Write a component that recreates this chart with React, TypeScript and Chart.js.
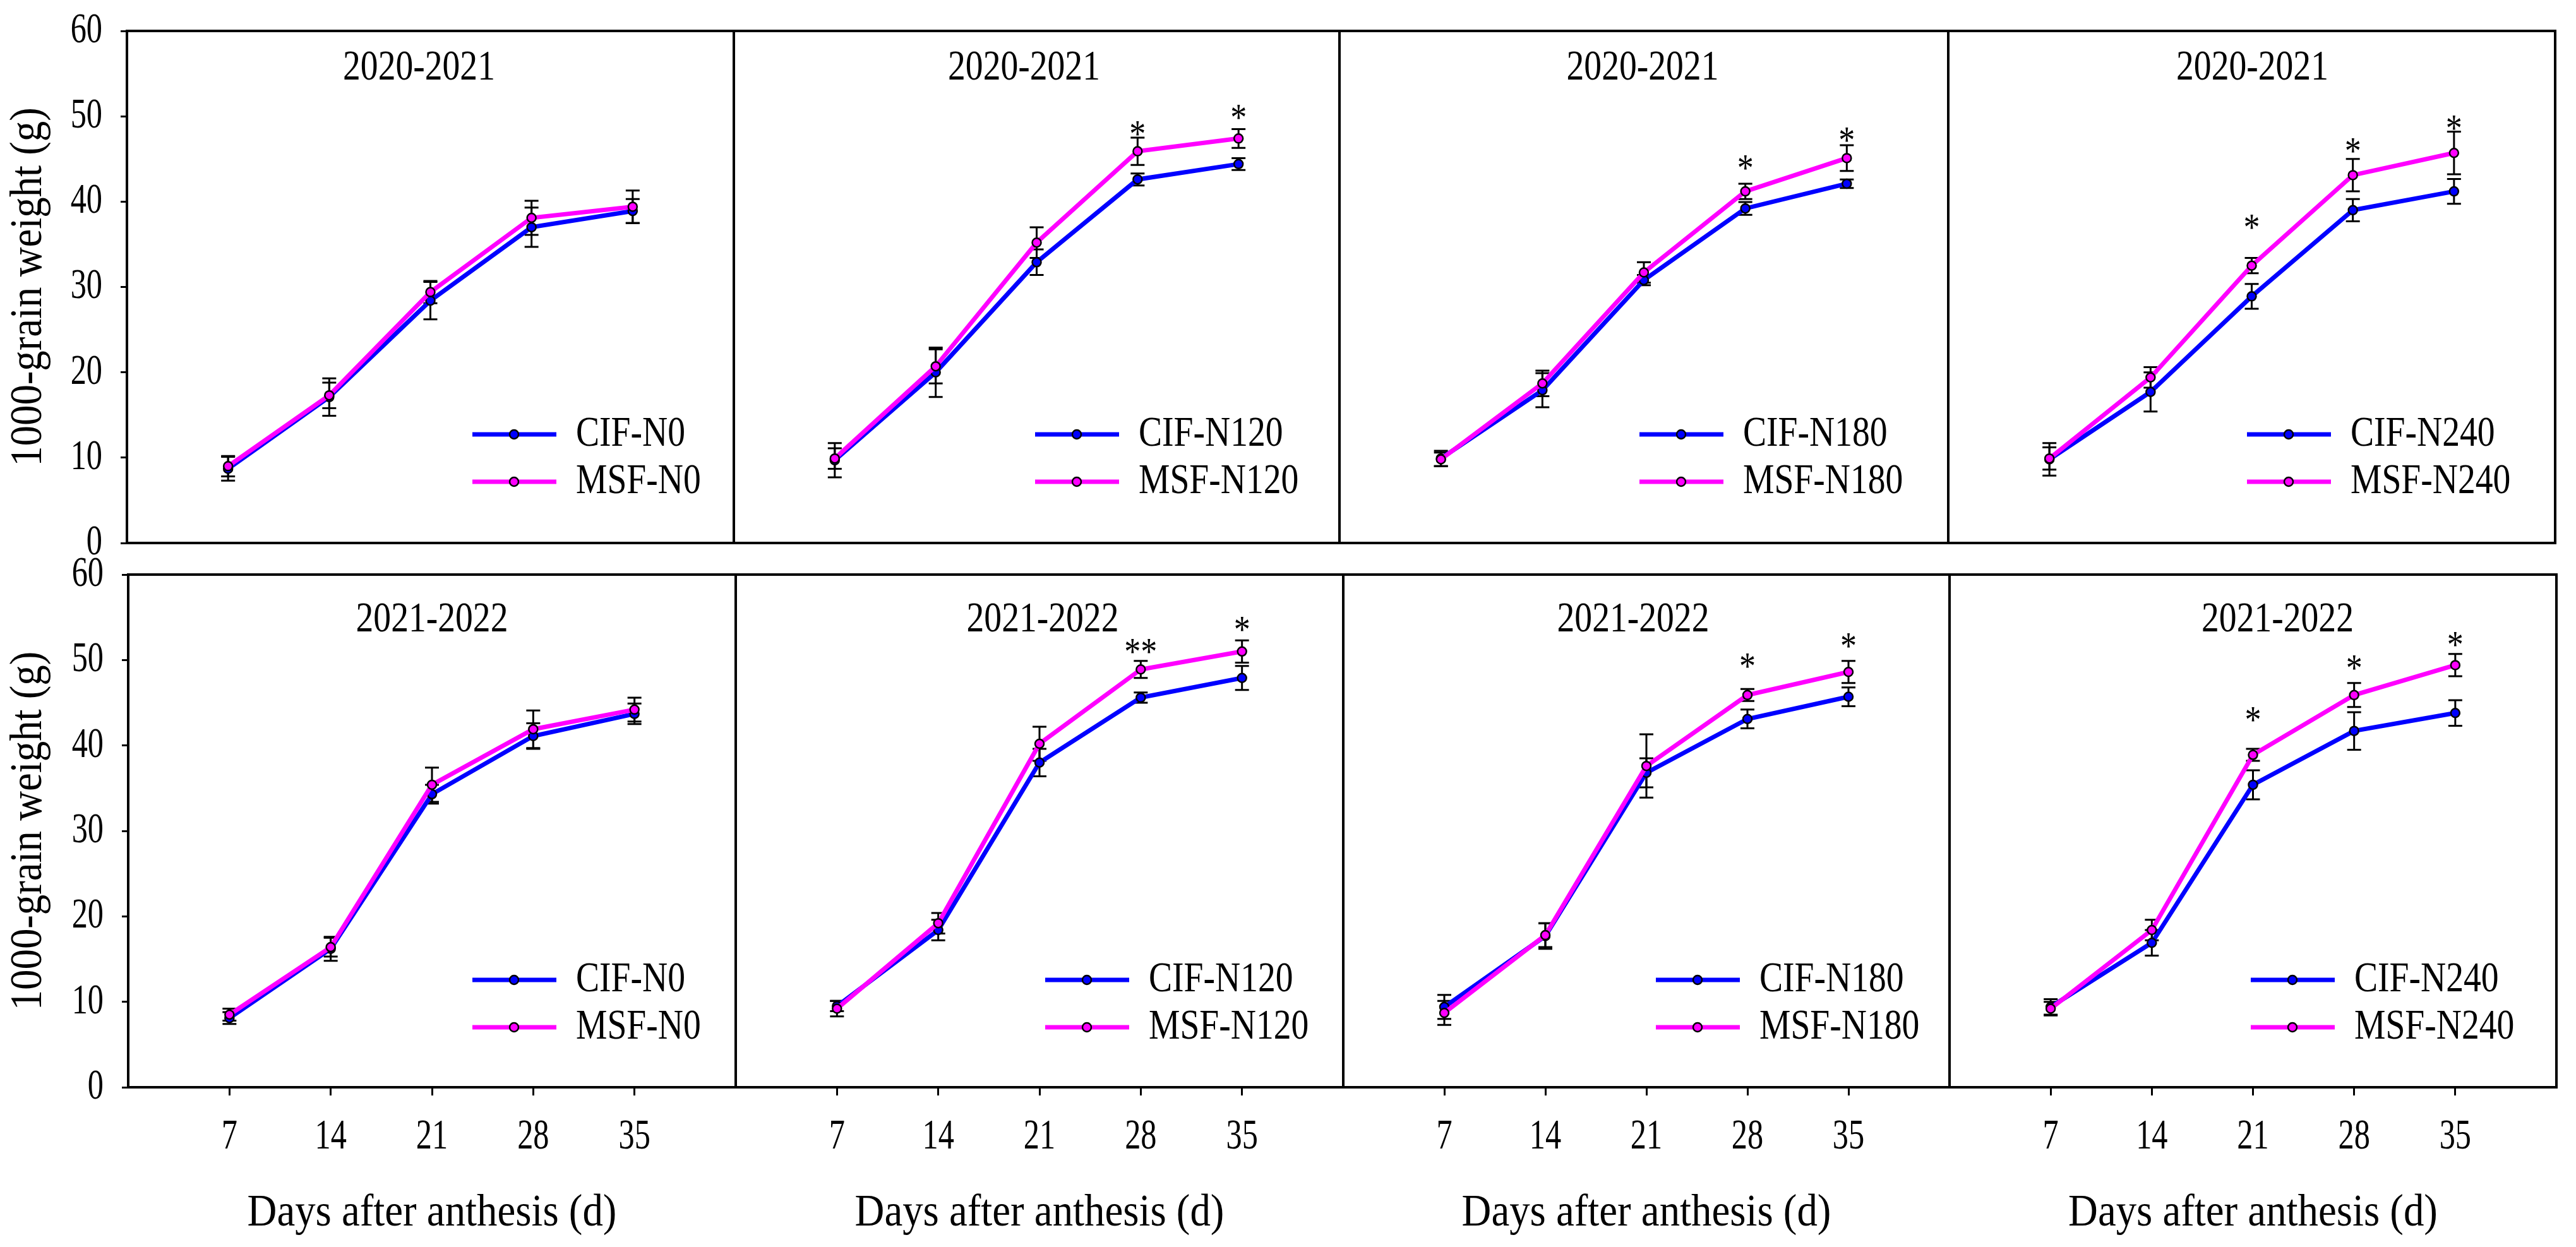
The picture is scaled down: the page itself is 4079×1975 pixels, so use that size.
import React, { useEffect, useRef } from "react";
import { Chart, registerables } from "chart.js";

Chart.register(...registerables);

const FONT = '"Liberation Serif", "Times New Roman", serif';

// ---------------- data ----------------
const DAYS = [7, 14, 21, 28, 35];
const SEASONS = ["2020-2021", "2021-2022"];
const N_LEVELS = ["N0", "N120", "N180", "N240"];
const Y_TITLE = "1000-grain weight (g)";
const X_TITLE = "Days after anthesis (d)";

// 2020-2021
const cif20N0 = [8.7, 17.1, 28.4, 37.0, 38.9];
const cif20N0Err = [1.4, 2.2, 2.2, 2.3, 1.4];
const msf20N0 = [9.0, 17.3, 29.4, 38.1, 39.4];
const msf20N0Err = [1.2, 1.5, 1.3, 2.0, 1.9];
const sig20N0 = ["", "", "", "", ""];
const sig20N0Y = [null, null, null, null, null];

const cif20N120 = [9.7, 20.0, 32.9, 42.6, 44.4];
const cif20N120Err = [2.0, 2.9, 1.5, 0.7, 0.7];
const msf20N120 = [9.9, 20.7, 35.2, 45.9, 47.4];
const msf20N120Err = [1.2, 2.0, 1.8, 1.6, 1.1];
const sig20N120 = ["", "", "", "*", "*"];
const sig20N120Y = [null, null, null, 48.6, 50.5];

const cif20N180 = [9.9, 17.9, 30.8, 39.2, 42.1];
const cif20N180Err = [0.9, 2.0, 0.6, 0.75, 0.5];
const msf20N180 = [9.8, 18.7, 31.7, 41.2, 45.1];
const msf20N180Err = [0.8, 1.5, 1.2, 0.9, 1.5];
const sig20N180 = ["", "", "", "*", "*"];
const sig20N180Y = [null, null, null, 44.6, 47.8];

const cif20N240 = [9.8, 17.7, 28.9, 39.0, 41.2];
const cif20N240Err = [1.9, 2.3, 1.45, 1.3, 1.45];
const msf20N240 = [9.9, 19.4, 32.5, 43.1, 45.7];
const msf20N240Err = [1.3, 1.2, 0.9, 1.9, 2.5];
const sig20N240 = ["", "", "*", "*", "*"];
const sig20N240Y = [null, null, 37.6, 46.6, 49.2];

// 2021-2022
const cif21N0 = [8.1, 16.2, 34.3, 41.1, 43.7];
const cif21N0Err = [0.7, 1.4, 1.1, 1.5, 1.2];
const msf21N0 = [8.5, 16.4, 35.4, 41.9, 44.2];
const msf21N0Err = [0.7, 1.1, 2.0, 2.2, 1.4];
const sig21N0 = ["", "", "", "", ""];
const sig21N0Y = [null, null, null, null, null];

const cif21N120 = [9.5, 18.4, 38.0, 45.6, 47.9];
const cif21N120Err = [0.6, 1.2, 1.6, 0.6, 1.4];
const msf21N120 = [9.2, 19.2, 40.2, 48.9, 51.0];
const msf21N120Err = [0.9, 1.2, 2.0, 1.0, 1.3];
const sig21N120 = ["", "", "", "**", "*"];
const sig21N120Y = [null, null, null, 51.6, 54.2];

const cif21N180 = [9.4, 17.7, 36.8, 43.1, 45.7];
const cif21N180Err = [1.4, 1.5, 1.7, 1.1, 1.1];
const msf21N180 = [8.7, 17.8, 37.6, 45.9, 48.6];
const msf21N180Err = [1.4, 1.4, 3.7, 0.7, 1.3];
const sig21N180 = ["", "", "", "*", "*"];
const sig21N180Y = [null, null, null, 49.9, 52.3];

const cif21N240 = [9.4, 16.9, 35.4, 41.7, 43.8];
const cif21N240Err = [0.9, 1.5, 1.7, 2.2, 1.5];
const msf21N240 = [9.2, 18.4, 38.9, 45.9, 49.4];
const msf21N240Err = [0.8, 1.2, 0.7, 1.4, 1.3];
const sig21N240 = ["", "", "*", "*", "*"];
const sig21N240Y = [null, null, 43.6, 49.7, 52.4];

type PanelData = {
  cif: number[]; cifErr: number[]; msf: number[]; msfErr: number[];
  sig: string[]; sigY: (number | null)[];
};

const PANELS: PanelData[] = [
  { cif: cif20N0, cifErr: cif20N0Err, msf: msf20N0, msfErr: msf20N0Err, sig: sig20N0, sigY: sig20N0Y },
  { cif: cif20N120, cifErr: cif20N120Err, msf: msf20N120, msfErr: msf20N120Err, sig: sig20N120, sigY: sig20N120Y },
  { cif: cif20N180, cifErr: cif20N180Err, msf: msf20N180, msfErr: msf20N180Err, sig: sig20N180, sigY: sig20N180Y },
  { cif: cif20N240, cifErr: cif20N240Err, msf: msf20N240, msfErr: msf20N240Err, sig: sig20N240, sigY: sig20N240Y },
  { cif: cif21N0, cifErr: cif21N0Err, msf: msf21N0, msfErr: msf21N0Err, sig: sig21N0, sigY: sig21N0Y },
  { cif: cif21N120, cifErr: cif21N120Err, msf: msf21N120, msfErr: msf21N120Err, sig: sig21N120, sigY: sig21N120Y },
  { cif: cif21N180, cifErr: cif21N180Err, msf: msf21N180, msfErr: msf21N180Err, sig: sig21N180, sigY: sig21N180Y },
  { cif: cif21N240, cifErr: cif21N240Err, msf: msf21N240, msfErr: msf21N240Err, sig: sig21N240, sigY: sig21N240Y },
];

// ---------------- layout / style ----------------
const PAGE_W = 4079;
const PAGE_H = 1975;
const ROW_TOP = [49, 910];
const ROW_BOTTOM = [860, 1722];
const COL_EDGES = [
  [201, 1162, 2121, 3085, 4046],
  [203, 1165, 2127, 3087, 4048],
];
const LEGEND_DX = [547, 477, 475, 473, 545, 490, 495, 477];
const LEGEND_DY = [[172, 97], [170, 95]];
const TITLE_DX = [-18, -20, -2, 1, 0, 5, -21, 39];
const TITLE_DY = [59, 72];
const BLUE = "#0000FF";
const MAGENTA = "#FF00FF";
const V_PAD = 80; // canvas margin above / below plot area (covers tick-label padding)

// horizontal condensing of text, keyed by font pixel size
const SQUEEZE: Record<number, number> = { 68: 0.74, 72: 0.9, 67: 0.83, 62: 0.84 };

function condense(ctx: any) {
  if (ctx.__condensed) return;
  ctx.__condensed = true;
  const orig = CanvasRenderingContext2D.prototype.fillText;
  ctx.fillText = function (text: string, x: number, y: number, maxWidth?: number) {
    const m = /(\d+(?:\.\d+)?)px/.exec(ctx.font);
    const f = m ? SQUEEZE[Math.round(parseFloat(m[1]))] ?? 1 : 1;
    ctx.save();
    ctx.translate(x, y);
    ctx.scale(f, 1);
    if (maxWidth === undefined || maxWidth === null) orig.call(ctx, text, 0, 0);
    else orig.call(ctx, text, 0, 0, maxWidth / f);
    ctx.restore();
  };
}

function geometry(row: number, col: number) {
  const L = COL_EDGES[row][col];
  const R = COL_EDGES[row][col + 1];
  const T = ROW_TOP[row];
  const B = ROW_BOTTOM[row];
  const x0 = col === 0 ? 0 : L - 8;
  const x1 = R + 8;
  const y0 = T - V_PAD;
  const y1 = row === 1 ? PAGE_H : B + V_PAD;
  return { L, R, T, B, x0, x1, y0, y1, w: x1 - x0, h: y1 - y0 };
}

function makePlugin(idx: number, p: PanelData, row: number) {
  return {
    id: "panelDecor",
    beforeDatasetsDraw(chart: any) {
      const { ctx } = chart;
      const xs = chart.scales.x;
      const ys = chart.scales.y;
      ctx.save();
      ctx.strokeStyle = "#000";
      ctx.lineWidth = 3;
      const series: [number[], number[]][] = [[p.cif, p.cifErr], [p.msf, p.msfErr]];
      for (const [vals, errs] of series) {
        vals.forEach((v, i) => {
          const px = xs.getPixelForValue(DAYS[i]);
          const t = ys.getPixelForValue(v + errs[i]);
          const b = ys.getPixelForValue(v - errs[i]);
          ctx.beginPath();
          ctx.moveTo(px, t); ctx.lineTo(px, b);
          ctx.moveTo(px - 11, t); ctx.lineTo(px + 11, t);
          ctx.moveTo(px - 11, b); ctx.lineTo(px + 11, b);
          ctx.stroke();
        });
      }
      ctx.restore();
    },
    afterDatasetsDraw(chart: any) {
      const { ctx, chartArea: a } = chart;
      const xs = chart.scales.x;
      const ys = chart.scales.y;
      ctx.save();
      // frame
      ctx.strokeStyle = "#000";
      ctx.lineWidth = 4;
      ctx.strokeRect(a.left, a.top, a.right - a.left, a.bottom - a.top);
      // panel title
      ctx.fillStyle = "#000";
      ctx.font = `67px ${FONT}`;
      ctx.textAlign = "center";
      ctx.textBaseline = "middle";
      ctx.fillText(SEASONS[row], (a.left + a.right) / 2 + TITLE_DX[idx], a.top + TITLE_DY[row]);
      // legend
      const lvl = N_LEVELS[idx % 4];
      const items: [string, string, number][] = [
        [`CIF-${lvl}`, BLUE, LEGEND_DY[row][0]],
        [`MSF-${lvl}`, MAGENTA, LEGEND_DY[row][1]],
      ];
      const lx = a.left + LEGEND_DX[idx];
      for (const [label, color, dy] of items) {
        const ly = a.bottom - dy;
        ctx.strokeStyle = color;
        ctx.lineWidth = 7;
        ctx.beginPath();
        ctx.moveTo(lx, ly);
        ctx.lineTo(lx + 133, ly);
        ctx.stroke();
        ctx.beginPath();
        ctx.arc(lx + 66, ly, 7, 0, Math.PI * 2);
        ctx.fillStyle = color;
        ctx.fill();
        ctx.strokeStyle = "#000";
        ctx.lineWidth = 2.5;
        ctx.stroke();
        ctx.fillStyle = "#000";
        ctx.font = `67px ${FONT}`;
        ctx.textAlign = "left";
        ctx.textBaseline = "middle";
        ctx.fillText(label, lx + 164, ly);
      }
      // significance marks
      ctx.font = `62px ${FONT}`;
      ctx.textAlign = "center";
      ctx.textBaseline = "alphabetic";
      ctx.fillStyle = "#000";
      p.sig.forEach((s, i) => {
        const sy = p.sigY[i];
        if (!s || sy === null) return;
        const m = ctx.measureText(s);
        const asc = m.actualBoundingBoxAscent;
        const desc = m.actualBoundingBoxDescent;
        const px = xs.getPixelForValue(DAYS[i]);
        const py = ys.getPixelForValue(sy);
        ctx.fillText(s, px, py + (asc - desc) / 2);
      });
      ctx.restore();
    },
  };
}

function Panel({ idx }: { idx: number }) {
  const ref = useRef<HTMLCanvasElement>(null);
  const row = Math.floor(idx / 4);
  const col = idx % 4;
  const g = geometry(row, col);
  useEffect(() => {
    const canvas = ref.current!;
    const ctx = canvas.getContext("2d")!;
    condense(ctx);
    const p = PANELS[idx];
    const isLeft = col === 0;
    const isBottom = row === 1;
    const xScale: any = {
      type: "linear",
      min: 0,
      max: 42,
      display: isBottom,
      afterBuildTicks: (s: any) => {
        s.ticks = DAYS.map((v) => ({ value: v }));
      },
      ticks: {
        font: { family: FONT, size: 68 },
        color: "#000",
        padding: 25,
        maxRotation: 0,
      },
      grid: {
        display: true,
        drawOnChartArea: false,
        drawTicks: true,
        tickLength: 13,
        color: "#000",
        lineWidth: 3,
      },
      border: { display: false },
      title: {
        display: true,
        text: X_TITLE,
        color: "#000",
        font: { family: FONT, size: 72 },
        padding: { top: 0, bottom: 10 },
      },
    };
    if (isBottom) {
      xScale.afterFit = (s: any) => {
        s.height = PAGE_H - g.B;
      };
    }
    const yScale: any = {
      type: "linear",
      min: 0,
      max: 60,
      display: isLeft,
      ticks: {
        stepSize: 10,
        font: { family: FONT, size: 68 },
        color: "#000",
        padding: 29,
      },
      grid: {
        display: true,
        drawOnChartArea: false,
        drawTicks: true,
        tickLength: 10,
        color: "#000",
        lineWidth: 3,
      },
      border: { display: false },
      title: {
        display: true,
        text: Y_TITLE,
        color: "#000",
        font: { family: FONT, size: 72 },
        padding: { top: 3, bottom: 0 },
      },
    };
    if (isLeft) {
      yScale.afterFit = (s: any) => {
        s.width = g.L;
      };
    }
    const chart = new Chart(canvas, {
      type: "line",
      data: {
        datasets: [
          {
            label: `CIF-${N_LEVELS[col]}`,
            data: DAYS.map((d, i) => ({ x: d, y: p.cif[i] })),
            borderColor: BLUE,
            backgroundColor: BLUE,
            borderWidth: 7,
            pointRadius: 7,
            pointBorderWidth: 2.5,
            pointBorderColor: "#000",
            pointBackgroundColor: BLUE,
            tension: 0,
            order: 1,
          },
          {
            label: `MSF-${N_LEVELS[col]}`,
            data: DAYS.map((d, i) => ({ x: d, y: p.msf[i] })),
            borderColor: MAGENTA,
            backgroundColor: MAGENTA,
            borderWidth: 7,
            pointRadius: 7,
            pointBorderWidth: 2.5,
            pointBorderColor: "#000",
            pointBackgroundColor: MAGENTA,
            tension: 0,
            order: 0,
          },
        ],
      },
      options: {
        animation: false,
        responsive: false,
        devicePixelRatio: 1,
        events: [],
        layout: {
          autoPadding: false,
          padding: {
            left: isLeft ? 0 : g.L - g.x0,
            right: g.x1 - g.R,
            top: g.T - g.y0,
            bottom: isBottom ? 0 : g.y1 - g.B,
          },
        },
        plugins: {
          legend: { display: false },
          tooltip: { enabled: false },
        },
        scales: { x: xScale, y: yScale },
      },
      plugins: [makePlugin(idx, p, row)],
    } as any);
    return () => chart.destroy();
  }, []);
  return (
    <canvas
      ref={ref}
      width={g.w}
      height={g.h}
      style={{ position: "absolute", left: g.x0, top: g.y0, width: g.w, height: g.h }}
    />
  );
}

export default function App() {
  return (
    <div
      style={{
        position: "absolute",
        left: 0,
        top: 0,
        width: PAGE_W,
        height: PAGE_H,
        background: "#fff",
        overflow: "hidden",
      }}
    >
      {PANELS.map((_, i) => (
        <Panel key={i} idx={i} />
      ))}
    </div>
  );
}
